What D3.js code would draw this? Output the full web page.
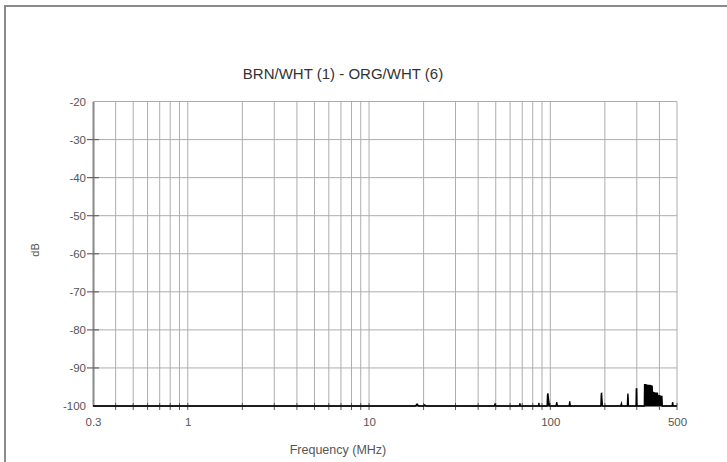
<!DOCTYPE html>
<html><head><meta charset="utf-8">
<script src="https://cdn.jsdelivr.net/npm/d3@7"></script>
<style>
html,body{margin:0;padding:0;background:#fff;}
svg{display:block;font-family:"Liberation Sans",Arial,sans-serif;}
</style></head>
<body>
<script>
// ---- data ----
const title = "BRN/WHT (1) - ORG/WHT (6)";
const xLabel = "Frequency (MHz)";
const yLabel = "dB";
const xTickValues = [0.3, 1, 10, 100, 500];
const xTickLabels = ["0.3", "1", "10", "100", "500"];
const yTickValues = [-20, -30, -40, -50, -60, -70, -80, -90, -100];
const xGridValues = [0.4,0.5,0.6,0.7,0.8,0.9,1,2,3,4,5,6,7,8,9,10,20,30,40,50,60,70,80,90,100,200,300,400,500];
// measured trace: frequency (MHz) and level (dB)
const freqMHz = [0.3, 18.0, 18.4, 18.8, 20.0, 20.3, 20.6, 49.0, 49.5, 50.0, 67.5, 68.0, 68.5, 86.0, 86.5, 87.0,
  96.0, 96.5, 97.0, 98.0, 99.0, 107.5, 108.5, 109.5, 127, 128, 129,
  190, 191, 192, 193, 194, 245, 246, 247, 248, 266, 267, 268, 269, 270, 297, 298, 300, 301,
  330, 331, 335, 345, 355, 365, 366, 370, 380, 390, 392, 400, 410, 413, 415, 470, 472, 474, 476, 500];
const levelDB = [-100, -100, -99.5, -100, -100, -99.7, -100, -100, -99.5, -100, -100, -99.3, -100, -100, -99.2, -100,
  -100, -97.0, -96.7, -98.5, -100, -100, -99.0, -100, -100, -98.8, -100,
  -100, -96.8, -96.7, -98.5, -100, -100, -99.5, -99.3, -100, -100, -98.0, -96.7, -98.0, -100, -100, -95.5, -95.5, -100,
  -100, -94.4, -94.4, -94.6, -94.6, -94.8, -96.4, -96.4, -96.6, -96.6, -97.3, -97.3, -97.5, -97.5, -100, -100, -99.2, -99.0, -100, -100];

// ---- layout ----
const W = 727, H = 462;
const svg = d3.select("body").append("svg").attr("width", W).attr("height", H);

// outer frame
svg.append("rect").attr("x", 5).attr("y", 6).attr("width", W + 10).attr("height", H + 10)
  .attr("fill", "none").attr("stroke", "#8a8a8a").attr("stroke-width", 2);

const x = d3.scaleLog().domain([0.3, 500]).range([93, 677]);
const y = d3.scaleLinear().domain([-100, -20]).range([406, 101.5]);

const gridColor = "#adadad";
// vertical grid
svg.append("g").selectAll("line").data(xGridValues).join("line")
  .attr("x1", d => x(d)).attr("x2", d => x(d))
  .attr("y1", y(-20)).attr("y2", y(-100))
  .attr("stroke", gridColor).attr("stroke-width", 1);
// horizontal grid
svg.append("g").selectAll("line").data(yTickValues.filter(v => v > -100)).join("line")
  .attr("x1", x(0.3)).attr("x2", x(500))
  .attr("y1", d => y(d)).attr("y2", d => y(d))
  .attr("stroke", gridColor).attr("stroke-width", 1);

// y axis
const yAxis = d3.axisLeft(y).tickValues(yTickValues).tickSize(0).tickPadding(7)
  .tickFormat(d => d);
const gy = svg.append("g").attr("transform", `translate(${x(0.3)},0)`).call(yAxis);
gy.select(".domain").attr("stroke", "#888").attr("stroke-width", 2);
gy.selectAll("text").attr("font-size", 11.5).attr("fill", "#555").attr("font-family", "Liberation Sans, Arial");
// y tick marks crossing axis
svg.append("g").selectAll("line").data(yTickValues.filter(v => v > -100 && v < -20)).join("line")
  .attr("x1", x(0.3) - 6).attr("x2", x(0.3) + 6)
  .attr("y1", d => y(d)).attr("y2", d => y(d))
  .attr("stroke", "#666").attr("stroke-width", 1.2);

// x axis
const xAxis = d3.axisBottom(x).tickValues(xTickValues).tickSize(0).tickPadding(12)
  .tickFormat((d, i) => xTickLabels[i]);
const gx = svg.append("g").attr("transform", `translate(0,${y(-100)})`).call(xAxis);
gx.select(".domain").remove();
gx.selectAll("text").attr("font-size", 11.5).attr("fill", "#555").attr("font-family", "Liberation Sans, Arial");
svg.append("line").attr("x1", x(0.3)).attr("x2", x(500)).attr("y1", y(-100)).attr("y2", y(-100))
  .attr("stroke", "#777").attr("stroke-width", 2);
// x tick marks
svg.append("g").selectAll("line").data(xGridValues).join("line")
  .attr("x1", d => x(d)).attr("x2", d => x(d))
  .attr("y1", y(-100) - 3).attr("y2", y(-100) + 4)
  .attr("stroke", "#555").attr("stroke-width", 1);

// trace
const pts = freqMHz.map((f, i) => [f, levelDB[i]]);
const line = d3.line().x(d => x(d[0])).y(d => y(d[1]));
const area = d3.area().x(d => x(d[0])).y0(y(-100)).y1(d => y(d[1]));
svg.append("path").datum(pts).attr("d", area).attr("fill", "#000");
svg.append("path").datum(pts).attr("d", line).attr("fill", "none").attr("stroke", "#000").attr("stroke-width", 1.3);

// title & labels
svg.append("text").attr("x", 343).attr("y", 79).attr("text-anchor", "middle")
  .attr("font-size", 15).attr("fill", "#333").text(title);
svg.append("text").attr("x", 338).attr("y", 454).attr("text-anchor", "middle")
  .attr("font-size", 12.5).attr("fill", "#555").text(xLabel);
svg.append("text").attr("transform", "translate(39,250) rotate(-90)").attr("text-anchor", "middle")
  .attr("font-size", 11).attr("fill", "#555").text(yLabel);
</script>
</body></html>
